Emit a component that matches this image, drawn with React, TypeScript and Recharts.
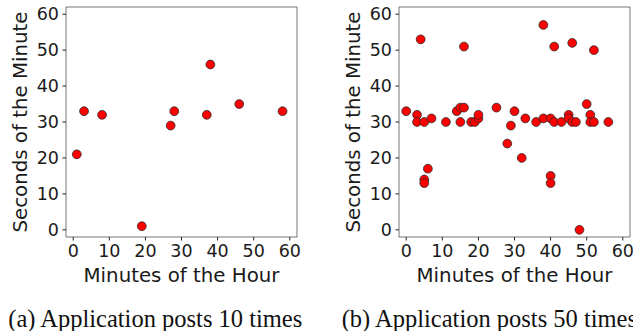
import { ScatterChart, Scatter, XAxis, YAxis, ReferenceArea } from 'recharts';

// (a) 10 posts: minute of hour / second of minute
const minutesA = [1, 3, 8, 19, 27, 28, 37, 38, 46, 58];
const secondsA = [21, 33, 32, 1, 29, 33, 32, 46, 35, 33];

// (b) 50 posts
const minutesB = [
  0, 3, 3, 4, 5, 5, 5, 6, 7, 11, 14, 15, 16, 15, 16, 18, 19, 20, 20, 25, 28, 29, 30,
  32, 33, 36, 38, 38, 40, 40, 40, 41, 41, 43, 45, 45, 46, 46, 47, 48, 50, 51, 51, 52, 52, 56,
];
const secondsB = [
  33, 32, 30, 53, 30, 14, 13, 17, 31, 30, 33, 34, 34, 30, 51, 30, 30, 31, 32, 34, 24, 29, 33,
  20, 31, 30, 57, 31, 31, 15, 13, 51, 30, 30, 32, 31, 52, 30, 30, 0, 35, 32, 30, 50, 30, 30,
];

const axisTicks = [0, 10, 20, 30, 40, 50, 60];
const captions = ['(a) Application posts 10 times', '(b) Application posts 50 times'];
const xTitle = 'Minutes of the Hour';
const yTitle = 'Seconds of the Minute';

const toPoints = (xs: number[], ys: number[]) => xs.map((m, i) => ({ m, s: ys[i] }));

const SANS = 'DejaVu Sans';
const tickStyle = { fontFamily: SANS, fontSize: 17.5, fill: '#1a1a1a' };

function Dot(props: any) {
  const { cx, cy } = props;
  if (cx == null || cy == null) return null;
  return <circle cx={cx} cy={cy} r={4.4} fill="#ff0000" stroke="#2a2a2a" strokeWidth={0.8} />;
}

function YTitle({ viewBox, value }: any) {
  const x = (viewBox?.x ?? 0) + 27.3;
  const y = (viewBox?.y ?? 7) + (viewBox?.height ?? 230) / 2;
  return (
    <text x={x} y={y} transform={`rotate(-90, ${x}, ${y})`} textAnchor="middle"
      fontFamily={SANS} fontSize={19.8} fill="#1a1a1a">
      {value}
    </text>
  );
}

function XTitle({ viewBox, value }: any) {
  const x = (viewBox?.x ?? 66) + (viewBox?.width ?? 231) / 2;
  const y = (viewBox?.y ?? 237) + 45;
  return (
    <text x={x} y={y} textAnchor="middle" fontFamily={SANS} fontSize={19.8} fill="#1a1a1a">
      {value}
    </text>
  );
}

function Panel({ data, width, right }: { data: { m: number; s: number }[]; width: number; right: number }) {
  return (
    <ScatterChart width={width} height={290} margin={{ top: 7, right, bottom: 0, left: 0 }}>
      <XAxis
        type="number"
        dataKey="m"
        domain={[-2, 62]}
        ticks={axisTicks}
        allowDataOverflow
        height={53}
        axisLine={false}
        tickSize={3.5}
        tickMargin={4}
        tickLine={{ stroke: '#222' }}
        tick={tickStyle}
        label={<XTitle value={xTitle} />}
      />
      <YAxis
        type="number"
        dataKey="s"
        domain={[-2, 62]}
        ticks={axisTicks}
        allowDataOverflow
        width={66}
        axisLine={false}
        tickSize={3.5}
        tickMargin={3.5}
        tickLine={{ stroke: '#222' }}
        tick={tickStyle}
        label={<YTitle value={yTitle} />}
      />
      <ReferenceArea x1={-2} x2={62} y1={-2} y2={62} fill="none" fillOpacity={0} stroke="#777" strokeWidth={1} />
      <Scatter data={data} shape={<Dot />} isAnimationActive={false} />
    </ScatterChart>
  );
}

export default function App() {
  return (
    <div style={{ position: 'absolute', left: 0, top: 0, width: 633, height: 331, background: '#fff', overflow: 'hidden' }}>
      <div style={{ position: 'absolute', left: 0, top: 0 }}>
        <Panel data={toPoints(minutesA, secondsA)} width={310} right={13} />
      </div>
      <div style={{ position: 'absolute', left: 333, top: 0 }}>
        <Panel data={toPoints(minutesB, secondsB)} width={300} right={3} />
      </div>
      <svg width={633} height={41} style={{ position: 'absolute', left: 0, top: 290 }}>
        <text x={8.3} y={36.6} fontFamily="Liberation Serif" fontSize={24.5} fill="#111">{captions[0]}</text>
        <text x={341.7} y={36.6} fontFamily="Liberation Serif" fontSize={24.5} fill="#111">{captions[1]}</text>
      </svg>
    </div>
  );
}
